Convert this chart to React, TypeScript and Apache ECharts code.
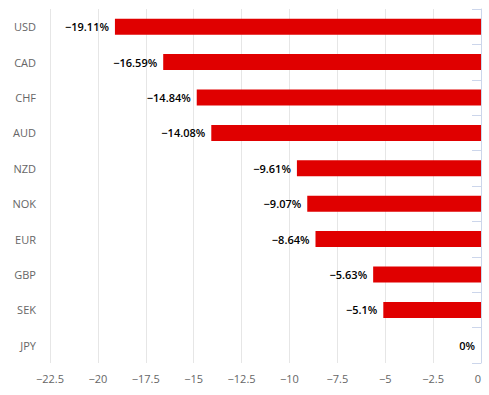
import React, { useEffect, useRef } from "react";
import * as echarts from "echarts";

const categories = ["USD", "CAD", "CHF", "AUD", "NZD", "NOK", "EUR", "GBP", "SEK", "JPY"];
const values = [-19.11, -16.59, -14.84, -14.08, -9.61, -9.07, -8.64, -5.63, -5.1, 0];

const minus = (s: string) => s.replace("-", "\u2212");

export default function App() {
  const ref = useRef<HTMLDivElement>(null);
  useEffect(() => {
    const chart = echarts.init(ref.current!, null, { renderer: "svg" });
    chart.setOption({
      animation: false,
      grid: { left: 50, right: 8, top: 9, bottom: 32, containLabel: false },
      xAxis: {
        type: "value",
        min: -22.5,
        max: 0,
        interval: 2.5,
        axisLine: { show: false },
        axisTick: { show: false },
        splitLine: { show: true, lineStyle: { color: "#e6e6e6", width: 1 } },
        axisLabel: {
          color: "#666666",
          fontSize: 11,
          fontFamily: "Open Sans",
          margin: 10,
          alignMaxLabel: "right",
          formatter: (v: number) => minus(String(v)),
        },
      },
      yAxis: {
        type: "category",
        data: categories,
        inverse: true,
        axisLine: { show: true, lineStyle: { color: "#ccd6eb" } },
        axisTick: { show: true, length: 9, lineStyle: { color: "#ccd6eb" } },
        axisLabel: { color: "#666666", fontSize: 11, fontFamily: "Open Sans", margin: 14 },
        splitLine: { show: false },
      },
      series: [
        {
          type: "bar",
          data: values,
          barWidth: 16,
          itemStyle: { color: "#e00000" },
          label: {
            show: true,
            position: "left",
            distance: 6,
            color: "#000000",
            fontSize: 11,
            fontWeight: 600,
            fontFamily: "Open Sans",
            formatter: (p: any) => minus(String(p.value)) + "%",
          },
        },
      ],
    });
    return () => chart.dispose();
  }, []);
  return (
    <div
      ref={ref}
      style={{ position: "absolute", left: 0, top: 0, width: 489, height: 395 }}
    />
  );
}
